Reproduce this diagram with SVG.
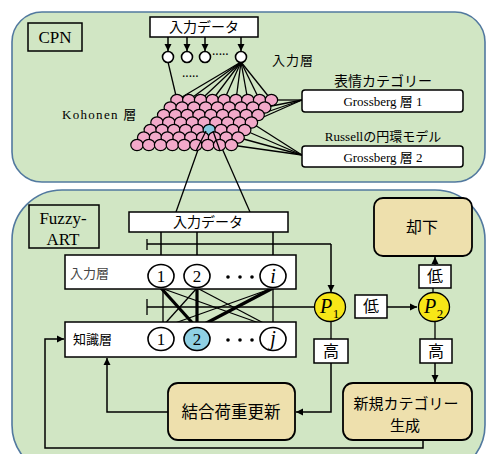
<svg xmlns="http://www.w3.org/2000/svg" width="487" height="454" viewBox="0 0 487 454">
<defs>
<marker id="ah" markerWidth="8" markerHeight="8" refX="7" refY="4" orient="auto" markerUnits="userSpaceOnUse">
<path d="M0,0.5 L7,4 L0,7.5 Z" fill="#000"/>
</marker>
<style>
.panel{fill:#d1e6c4;stroke:#52799f;stroke-width:1.6}
.box{fill:#fff;stroke:#000;stroke-width:1.5}
.tan{fill:#eee0ad;stroke:#000;stroke-width:1.8}
.ln{stroke:#000;stroke-width:1.3;fill:none}
.thk{stroke:#000;stroke-width:3.2;fill:none}
.arr{stroke:#000;stroke-width:1.5;fill:none;marker-end:url(#ah)}
.jp{font-family:"Noto Sans CJK JP","Noto Sans",sans-serif;fill:#000}
.sr{font-family:"Liberation Serif","Noto Sans CJK JP",serif;fill:#000}
.k{fill:#f2a9c9;stroke:#000;stroke-width:1.2}
.nc{fill:#fff;stroke:#000;stroke-width:1.6}
.pc{fill:#f7e617;stroke:#000;stroke-width:1.3}
</style>
</defs>

<!-- panels -->
<g id="cpn-panel">
<rect class="panel" x="12" y="12" width="473" height="170" rx="30"/>
<rect x="28" y="23" width="54" height="28" fill="none" stroke="#000" stroke-width="1.5"/>
<text class="sr" x="55" y="43" font-size="17" text-anchor="middle">CPN</text>
</g>
<g id="art-panel">
<rect class="panel" x="12" y="190" width="473" height="285" rx="50"/>
<rect x="29" y="205" width="70" height="43" fill="none" stroke="#000" stroke-width="1.5"/>
<text class="sr" x="63" y="224" font-size="17" text-anchor="middle">Fuzzy-</text>
<text class="sr" x="63" y="245" font-size="17" text-anchor="middle">ART</text>
</g>

<!-- CPN connectors -->
<g id="cpn-connectors">
<line class="arr" x1="168" y1="37" x2="168" y2="51"/>
<line class="arr" x1="187" y1="37" x2="187" y2="51"/>
<line class="arr" x1="205" y1="37" x2="205" y2="51"/>
<line class="arr" x1="241" y1="37" x2="241" y2="51"/>
<line class="ln" x1="168" y1="62" x2="177" y2="100"/>
<line class="ln" x1="241" y1="62" x2="177" y2="100"/>
<line class="ln" x1="241" y1="62" x2="188.8" y2="100"/>
<line class="ln" x1="241" y1="62" x2="200.6" y2="100"/>
<line class="ln" x1="241" y1="62" x2="212.4" y2="100"/>
<line class="ln" x1="241" y1="62" x2="224.2" y2="100"/>
<line class="ln" x1="241" y1="62" x2="236" y2="100"/>
<line class="ln" x1="241" y1="62" x2="247.8" y2="100"/>
<line class="ln" x1="241" y1="62" x2="259.6" y2="100"/>
<line class="ln" x1="241" y1="62" x2="271.4" y2="100"/>
<line class="ln" x1="302" y1="100" x2="271" y2="100"/>
<line class="ln" x1="302" y1="100" x2="264" y2="107.5"/>
<line class="ln" x1="302" y1="100" x2="258" y2="115"/>
<line class="ln" x1="302" y1="100" x2="251" y2="122.5"/>
<line class="ln" x1="302" y1="155" x2="251" y2="122.5"/>
<line class="ln" x1="302" y1="155" x2="244" y2="130"/>
<line class="ln" x1="302" y1="155" x2="238" y2="137.5"/>
<line class="ln" x1="302" y1="155" x2="231" y2="145"/>
<line class="ln" x1="205" y1="130" x2="176" y2="212"/>
<line class="ln" x1="214" y1="130" x2="250" y2="212"/>
</g>

<!-- CPN nodes -->
<g id="cpn-input-data">
<rect class="box" x="150" y="17" width="108" height="20"/>
<text class="jp" x="204" y="32" font-size="14" text-anchor="middle">入力データ</text>
</g>
<g id="cpn-input-layer">
<circle class="nc" cx="168" cy="57" r="5.5"/>
<circle class="nc" cx="187" cy="57" r="5.5"/>
<circle class="nc" cx="205" cy="57" r="5.5"/>
<circle class="nc" cx="241" cy="57" r="5.5"/>
<text class="sr" x="212" y="58" font-size="10" font-weight="bold">·····</text>
<text class="sr" x="182" y="80" font-size="10" font-weight="bold">·····</text>
<text class="jp" x="272" y="65" font-size="13" letter-spacing="1">入力層</text>
</g>
<g id="kohonen-layer">
<text class="sr" x="62" y="119" font-size="13" letter-spacing="1.3">Kohonen 層</text>
<g id="kgrid">
<ellipse class="k" cx="177" cy="100" rx="6.2" ry="5.7"/><ellipse class="k" cx="188.8" cy="100" rx="6.2" ry="5.7"/><ellipse class="k" cx="200.6" cy="100" rx="6.2" ry="5.7"/><ellipse class="k" cx="212.4" cy="100" rx="6.2" ry="5.7"/><ellipse class="k" cx="224.2" cy="100" rx="6.2" ry="5.7"/><ellipse class="k" cx="236" cy="100" rx="6.2" ry="5.7"/><ellipse class="k" cx="247.8" cy="100" rx="6.2" ry="5.7"/><ellipse class="k" cx="259.6" cy="100" rx="6.2" ry="5.7"/><ellipse class="k" cx="271.4" cy="100" rx="6.2" ry="5.7"/>
<ellipse class="k" cx="170.3" cy="107.5" rx="6.2" ry="5.7"/><ellipse class="k" cx="182.1" cy="107.5" rx="6.2" ry="5.7"/><ellipse class="k" cx="193.9" cy="107.5" rx="6.2" ry="5.7"/><ellipse class="k" cx="205.7" cy="107.5" rx="6.2" ry="5.7"/><ellipse class="k" cx="217.5" cy="107.5" rx="6.2" ry="5.7"/><ellipse class="k" cx="229.3" cy="107.5" rx="6.2" ry="5.7"/><ellipse class="k" cx="241.1" cy="107.5" rx="6.2" ry="5.7"/><ellipse class="k" cx="252.9" cy="107.5" rx="6.2" ry="5.7"/><ellipse class="k" cx="264.7" cy="107.5" rx="6.2" ry="5.7"/>
<ellipse class="k" cx="163.7" cy="115" rx="6.2" ry="5.7"/><ellipse class="k" cx="175.5" cy="115" rx="6.2" ry="5.7"/><ellipse class="k" cx="187.3" cy="115" rx="6.2" ry="5.7"/><ellipse class="k" cx="199.1" cy="115" rx="6.2" ry="5.7"/><ellipse class="k" cx="210.9" cy="115" rx="6.2" ry="5.7"/><ellipse class="k" cx="222.7" cy="115" rx="6.2" ry="5.7"/><ellipse class="k" cx="234.5" cy="115" rx="6.2" ry="5.7"/><ellipse class="k" cx="246.3" cy="115" rx="6.2" ry="5.7"/><ellipse class="k" cx="258.1" cy="115" rx="6.2" ry="5.7"/>
<ellipse class="k" cx="157" cy="122.5" rx="6.2" ry="5.7"/><ellipse class="k" cx="168.8" cy="122.5" rx="6.2" ry="5.7"/><ellipse class="k" cx="180.6" cy="122.5" rx="6.2" ry="5.7"/><ellipse class="k" cx="192.4" cy="122.5" rx="6.2" ry="5.7"/><ellipse class="k" cx="204.2" cy="122.5" rx="6.2" ry="5.7"/><ellipse class="k" cx="216" cy="122.5" rx="6.2" ry="5.7"/><ellipse class="k" cx="227.8" cy="122.5" rx="6.2" ry="5.7"/><ellipse class="k" cx="239.6" cy="122.5" rx="6.2" ry="5.7"/><ellipse class="k" cx="251.4" cy="122.5" rx="6.2" ry="5.7"/>
<ellipse class="k" cx="150.3" cy="130" rx="6.2" ry="5.7"/><ellipse class="k" cx="162.1" cy="130" rx="6.2" ry="5.7"/><ellipse class="k" cx="173.9" cy="130" rx="6.2" ry="5.7"/><ellipse class="k" cx="185.7" cy="130" rx="6.2" ry="5.7"/><ellipse class="k" cx="197.5" cy="130" rx="6.2" ry="5.7"/><ellipse cx="209.3" cy="130" rx="6.2" ry="5.7" fill="#86cbe2" stroke="#000" stroke-width="1.2"/><ellipse class="k" cx="221.1" cy="130" rx="6.2" ry="5.7"/><ellipse class="k" cx="232.9" cy="130" rx="6.2" ry="5.7"/><ellipse class="k" cx="244.7" cy="130" rx="6.2" ry="5.7"/>
<ellipse class="k" cx="143.7" cy="137.5" rx="6.2" ry="5.7"/><ellipse class="k" cx="155.5" cy="137.5" rx="6.2" ry="5.7"/><ellipse class="k" cx="167.3" cy="137.5" rx="6.2" ry="5.7"/><ellipse class="k" cx="179.1" cy="137.5" rx="6.2" ry="5.7"/><ellipse class="k" cx="190.9" cy="137.5" rx="6.2" ry="5.7"/><ellipse class="k" cx="202.7" cy="137.5" rx="6.2" ry="5.7"/><ellipse class="k" cx="214.5" cy="137.5" rx="6.2" ry="5.7"/><ellipse class="k" cx="226.3" cy="137.5" rx="6.2" ry="5.7"/><ellipse class="k" cx="238.1" cy="137.5" rx="6.2" ry="5.7"/>
<ellipse class="k" cx="137" cy="145" rx="6.2" ry="5.7"/><ellipse class="k" cx="148.8" cy="145" rx="6.2" ry="5.7"/><ellipse class="k" cx="160.6" cy="145" rx="6.2" ry="5.7"/><ellipse class="k" cx="172.4" cy="145" rx="6.2" ry="5.7"/><ellipse class="k" cx="184.2" cy="145" rx="6.2" ry="5.7"/><ellipse class="k" cx="196" cy="145" rx="6.2" ry="5.7"/><ellipse class="k" cx="207.8" cy="145" rx="6.2" ry="5.7"/><ellipse class="k" cx="219.6" cy="145" rx="6.2" ry="5.7"/><ellipse class="k" cx="231.4" cy="145" rx="6.2" ry="5.7"/>
</g>
<line class="ln" x1="206" y1="131" x2="196" y2="151"/>
<line class="ln" x1="213" y1="131" x2="220" y2="151"/>
</g>
<g id="grossberg1">
<text class="jp" x="383" y="86" font-size="14" text-anchor="middle">表情カテゴリー</text>
<rect class="box" x="302" y="90" width="161" height="22" rx="3"/>
<text class="sr" x="383" y="106" font-size="13" text-anchor="middle">Grossberg 層 1</text>
</g>
<g id="grossberg2">
<text class="sr" x="383" y="141" font-size="13" text-anchor="middle">Russellの円環モデル</text>
<rect class="box" x="302" y="146" width="161" height="21" rx="3"/>
<text class="sr" x="383" y="162" font-size="13" text-anchor="middle">Grossberg 層 2</text>
</g>

<!-- Fuzzy-ART connectors -->
<g id="art-connectors">
<line class="arr" x1="161" y1="232" x2="161" y2="264"/>
<line class="arr" x1="197" y1="232" x2="197" y2="264"/>
<line class="arr" x1="273" y1="232" x2="273" y2="264"/>
<path class="ln" d="M147,239 V250 M147,244 H331"/>
<path class="arr" d="M331,244 V292"/>
<path class="ln" d="M147,299 V315 M147,307 H314"/>
<line class="ln" x1="163" y1="288" x2="163" y2="327"/>
<line class="ln" x1="161" y1="288" x2="273" y2="328"/>
<line class="ln" x1="197" y1="288" x2="161" y2="328"/>
<line class="ln" x1="197" y1="288" x2="273" y2="328"/>
<line class="ln" x1="273" y1="288" x2="161" y2="328"/>
<line class="ln" x1="273" y1="288" x2="273" y2="327"/>
<line class="thk" x1="161" y1="288" x2="197" y2="328"/>
<line class="thk" x1="197" y1="288" x2="197" y2="328"/>
<line class="thk" x1="273" y1="288" x2="197" y2="328"/>
<line class="arr" x1="387" y1="307" x2="417" y2="307"/>
<line class="ln" x1="433" y1="293" x2="433" y2="288"/>
<line class="arr" x1="435" y1="265" x2="435" y2="257"/>
<line class="ln" x1="331" y1="321" x2="331" y2="339"/>
<path class="arr" d="M331,363 V412 H296"/>
<line class="ln" x1="435" y1="322" x2="435" y2="339"/>
<line class="arr" x1="435" y1="363" x2="435" y2="382"/>
<path class="arr" d="M423,440 V448 H45 V339 H64"/>
<path class="arr" d="M168,412 H107 V358"/>
</g>

<!-- Fuzzy-ART nodes -->
<g id="art-input-data">
<rect class="box" x="129" y="212" width="159" height="20"/>
<text class="jp" x="208" y="227" font-size="14" text-anchor="middle">入力データ</text>
</g>
<g id="art-input-layer">
<rect class="box" x="65" y="255" width="231" height="34"/>
<text class="jp" x="70" y="278" font-size="13" style="fill:#444">入力層</text>
<ellipse class="nc" cx="161" cy="276" rx="13" ry="11.5"/>
<ellipse class="nc" cx="197" cy="276" rx="13" ry="11.5"/>
<ellipse class="nc" cx="273" cy="276" rx="13" ry="11.5"/>
<text class="sr" x="161" y="282" font-size="17" text-anchor="middle">1</text>
<text class="sr" x="197" y="282" font-size="17" text-anchor="middle">2</text>
<text class="sr" x="273" y="283" font-size="20" font-style="italic" text-anchor="middle">i</text>
<circle cx="228" cy="277" r="1.8"/><circle cx="240" cy="277" r="1.8"/><circle cx="252" cy="277" r="1.8"/>
</g>
<g id="art-knowledge-layer">
<rect class="box" x="65" y="322" width="231" height="35"/>
<text class="jp" x="73" y="344" font-size="13">知識層</text>
<ellipse class="nc" cx="161" cy="339" rx="13" ry="11.5"/>
<ellipse cx="197" cy="339" rx="13" ry="11.5" fill="#8fd0e3" stroke="#000" stroke-width="1.6"/>
<ellipse class="nc" cx="273" cy="339" rx="13" ry="11.5"/>
<text class="sr" x="161" y="345" font-size="17" text-anchor="middle">1</text>
<text class="sr" x="197" y="345" font-size="17" text-anchor="middle">2</text>
<text class="sr" x="273" y="345" font-size="20" font-style="italic" text-anchor="middle">j</text>
<circle cx="228" cy="340" r="1.8"/><circle cx="240" cy="340" r="1.8"/><circle cx="252" cy="340" r="1.8"/>
</g>
<g id="p1">
<ellipse class="pc" cx="330" cy="307" rx="15.5" ry="14.5"/>
<text class="sr" x="326" y="313" font-size="20" font-style="italic" text-anchor="middle">P</text>
<text class="sr" x="336" y="318" font-size="13" text-anchor="middle">1</text>
</g>
<g id="p2">
<ellipse class="pc" cx="434" cy="307" rx="15.5" ry="14.5"/>
<text class="sr" x="430" y="313" font-size="20" font-style="italic" text-anchor="middle">P</text>
<text class="sr" x="440" y="318" font-size="13" text-anchor="middle">2</text>
</g>
<g id="low1">
<rect class="box" x="355" y="295" width="32" height="23"/>
<text class="jp" x="371" y="312" font-size="16" text-anchor="middle">低</text>
</g>
<g id="low2">
<rect class="box" x="419" y="265" width="32" height="23"/>
<text class="jp" x="435" y="282" font-size="16" text-anchor="middle">低</text>
</g>
<g id="high1">
<rect class="box" x="314" y="339" width="34" height="24"/>
<text class="jp" x="331" y="357" font-size="16" text-anchor="middle">高</text>
</g>
<g id="high2">
<rect class="box" x="420" y="339" width="32" height="24"/>
<text class="jp" x="436" y="357" font-size="16" text-anchor="middle">高</text>
</g>
<g id="reject">
<rect class="tan" x="374" y="198" width="98" height="58" rx="9"/>
<text class="jp" x="422" y="233" font-size="16" text-anchor="middle">却下</text>
</g>
<g id="weight-update">
<rect class="tan" x="168" y="383" width="127" height="57" rx="10"/>
<text class="jp" x="231" y="418" font-size="16.5" text-anchor="middle">結合荷重更新</text>
</g>
<g id="new-category">
<rect class="tan" x="343" y="383" width="129" height="57" rx="10"/>
<text class="jp" x="406" y="409" font-size="15" text-anchor="middle">新規カテゴリー</text>
<text class="jp" x="405" y="431" font-size="15" text-anchor="middle">生成</text>
</g>
</svg>
